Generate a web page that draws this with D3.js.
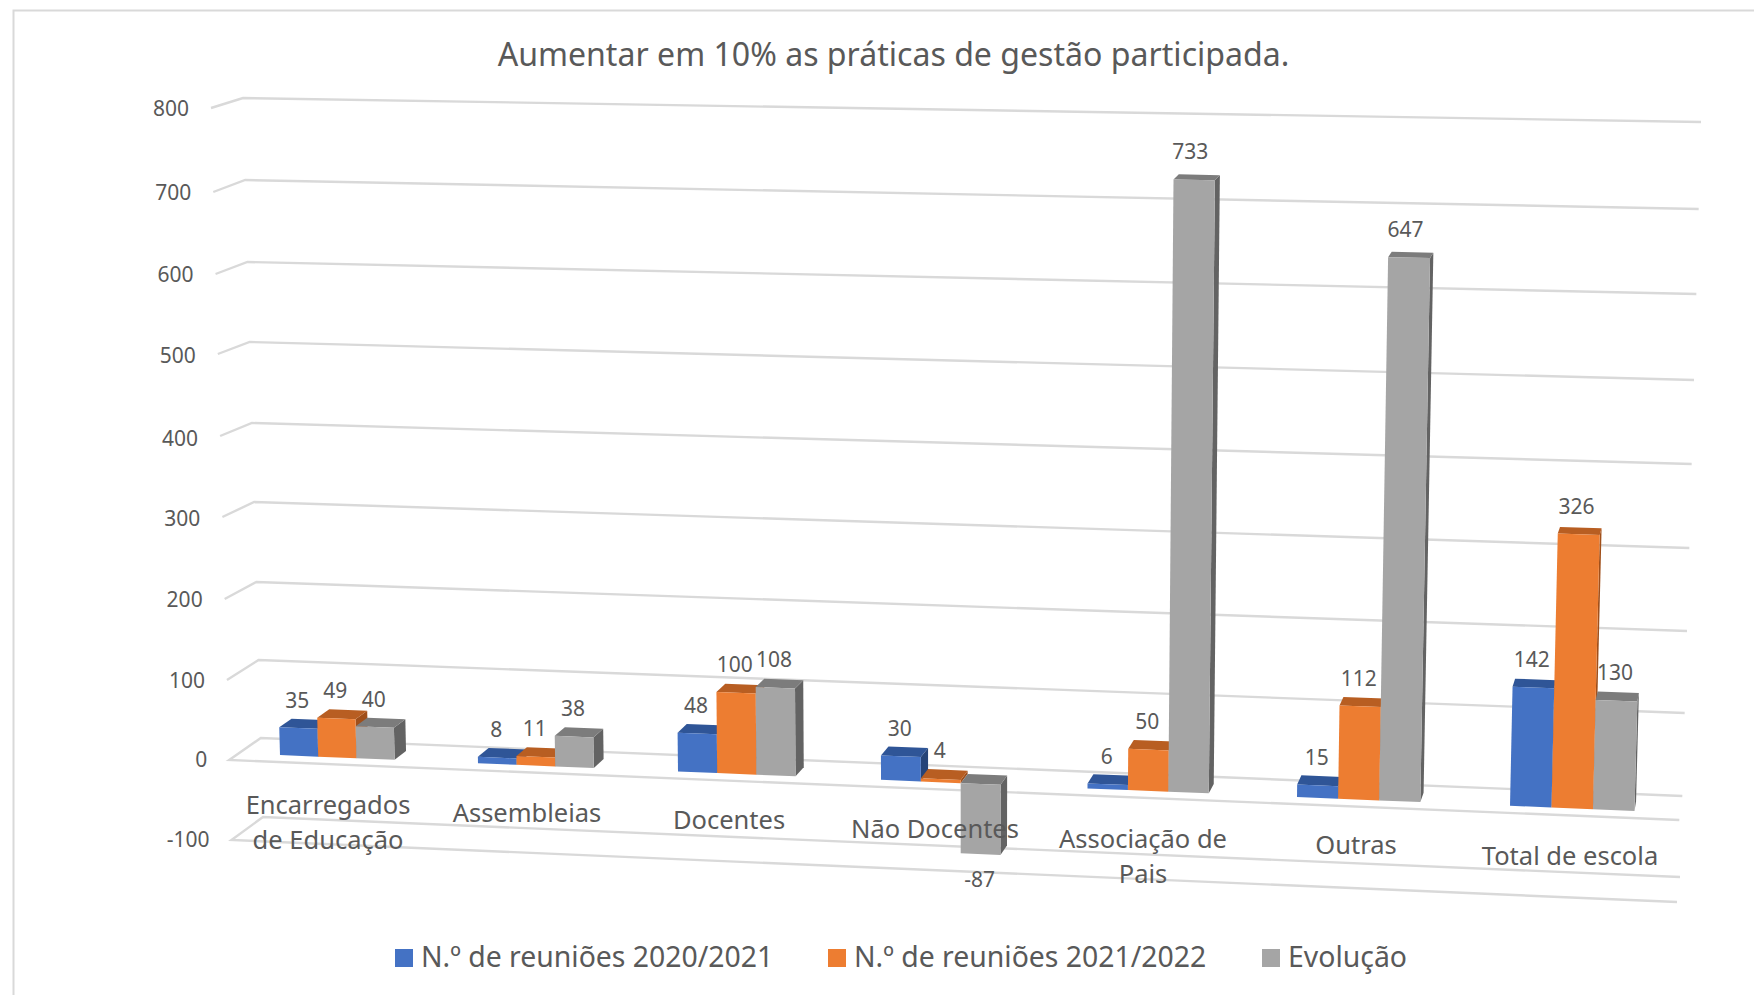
<!DOCTYPE html>
<html><head><meta charset="utf-8">
<script src="https://cdnjs.cloudflare.com/ajax/libs/d3/7.8.5/d3.min.js"></script>
<style>html,body{margin:0;padding:0;background:#fff}svg{display:block}text{font-family:"Noto Sans",sans-serif;fill:#595959}</style>
</head><body><svg id="c" width="1754" height="995"></svg>
<script>
const titleText = "Aumentar em 10% as práticas de gestão participada.";
const categories = [["Encarregados","de Educação"],["Assembleias"],["Docentes"],["Não Docentes"],["Associação de","Pais"],["Outras"],["Total de escola"]];
const seriesNames = ["N.º de reuniões 2020/2021","N.º de reuniões 2021/2022","Evolução"];
const reunioes2021 = [35,8,48,30,6,15,142];
const reunioes2122 = [49,11,100,4,50,112,326];
const evolucao = [40,38,108,-87,733,647,130];
const tickValues = [-100,0,100,200,300,400,500,600,700,800];
const seriesValues = [reunioes2021,reunioes2122,evolucao];
const frontColors = ["#4472C4","#ED7D31","#A5A5A5"];
const topColors = ["#2F5597","#B85E22","#7C7C7C"];
const sideColors = ["#264478","#A04F1A","#636363"];

// perspective frame of the 3D plot
const lfy = d3.scaleLinear(tickValues,[840,760,680,599,517,436,354,274,192,108]);
const lby = d3.scaleLinear(tickValues,[817,738,660,582,502,423,342,262,180,98]);
const rby = d3.scaleLinear(tickValues,[877,796,713,631,548,464,380,294,209,122]);
const rfy = v => rby(v) + (lfy(v)-lby(v)) + 2;
const lfx = d3.scaleLinear([-100,800],[231.5,211]);
const lbx = d3.scaleLinear([-100,800],[263,243]);
const rbx = d3.scaleLinear([-100,800],[1680,1701]);
const rfx = d3.scaleLinear([-100,800],[1677,1698]);
const lerp = d3.interpolateNumber;
function project(t,v,z){
  const lx=lerp(lfx(v),lbx(v))(z), ly=lerp(lfy(v),lby(v))(z);
  const rx=lerp(rfx(v),rbx(v))(z), ry=lerp(rfy(v),rby(v))(z);
  return [lerp(lx,rx)(t),lerp(ly,ry)(t)];
}
// category position along the floor (foreshortened)
const zFront=0.3, zBack=0.7;
const groupX = d3.scaleLinear([0,1,2,3,4,5,6,7],[280,478,678,881,1087.5,1297,1510,1725]);
const x0=project(0,0,zFront)[0], x1=project(1,0,zFront)[0];
const toT = d3.scaleLinear([x0,x1],[0,1]);
const barW = 0.193;

const svg=d3.select("#c");
svg.append("rect").attr("x",13.5).attr("y",10.5).attr("width",1800).attr("height",1100).attr("fill","#fff").attr("stroke","#d9d9d9").attr("stroke-width",2);

const line=d3.line();
const grid=svg.append("g").attr("fill","none").attr("stroke","#d9d9d9").attr("stroke-width",2.4);
tickValues.forEach(v=>{
  const pts=[[lfx(v),lfy(v)],[lbx(v),lby(v)],[rbx(v),rby(v)]];
  if(v<=0) pts.unshift([rfx(v),rfy(v)]);
  grid.append("path").attr("d",line(pts));
});
const tickNudge=d3.scaleLinear([-100,100,400,500,600,800],[-1,0,2.2,1,0,0]);
svg.append("g").selectAll("text").data(tickValues).join("text")
  .attr("x",v=>lfx(v)-22).attr("y",v=>lfy(v)+tickNudge(v)).attr("dy","0.36em")
  .attr("text-anchor","end").attr("font-size",21).text(d=>d);

const bars=svg.append("g"), labels=svg.append("g");
categories.forEach((c,i)=>{
  seriesValues.forEach((vals,s)=>{
    const v=vals[i];
    const a=toT(groupX(i+s*barW)), b=toT(groupX(i+(s+1)*barW));
    const hi=Math.max(v,0), lo=Math.min(v,0);
    const poly=(pts,col)=>bars.append("path").attr("d",line(pts)+"Z").attr("fill",col);
    poly([project(b,lo,zFront),project(b,lo,zBack),project(b,hi,zBack),project(b,hi,zFront)],sideColors[s]);
    poly([project(a,hi,zFront),project(a,hi,zBack),project(b,hi,zBack),project(b,hi,zFront)],topColors[s]);
    poly([project(a,lo,zFront),project(b,lo,zFront),project(b,hi,zFront),project(a,hi,zFront)],frontColors[s]);
    const m=(a+b)/2;
    const px=project(m,v,zFront)[0]-1-Math.max(v,0)*0.004;
    const py=v<0 ? project(m,v,zFront)[1]+25.5 : project(m,v,zBack)[1]-19-Math.max(v,0)*0.006;
    labels.append("text").attr("x",px).attr("y",py).attr("dy","0.36em")
      .attr("text-anchor","middle").attr("font-size",21).text(v);
  });
});

const catCenters=[328,527,729,935,1143,1356,1570];
const catRows=[804.5,812.5,819.5,828.5,838.5,844.5,855.5];
const catG=svg.append("g");
categories.forEach((c,i)=>{
  c.forEach((ln,j)=>{
    catG.append("text").attr("x",catCenters[i]).attr("y",catRows[i]+j*35).attr("dy","0.36em")
      .attr("text-anchor","middle").attr("font-size",25.5).text(ln);
  });
});

svg.append("text").attr("x",893.5).attr("y",54).attr("dy","0.36em").attr("text-anchor","middle").attr("font-size",32.1).text(titleText);

const legendX=[395,828,1262];
const lg=svg.append("g");
seriesNames.forEach((n,i)=>{
  lg.append("rect").attr("x",legendX[i]).attr("y",949).attr("width",18).attr("height",18).attr("fill",frontColors[i]);
  lg.append("text").attr("x",legendX[i]+26).attr("y",957).attr("dy","0.36em").attr("font-size",28.4).text(n);
});
</script></body></html>
